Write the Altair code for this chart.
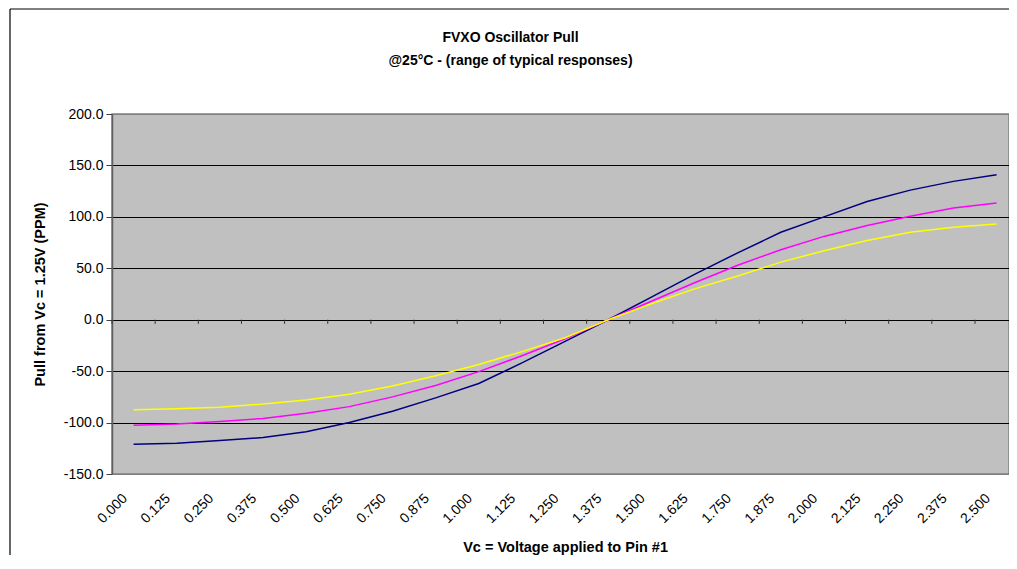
import json
import altair as alt
import pandas as pd

# ---- data ----
categories = ["0.000", "0.125", "0.250", "0.375", "0.500", "0.625", "0.750",
              "0.875", "1.000", "1.125", "1.250", "1.375", "1.500", "1.625",
              "1.750", "1.875", "2.000", "2.125", "2.250", "2.375", "2.500"]
series_names = ["Response A", "Response B", "Response C"]
series_colors = ["#000080", "#FF00FF", "#FFFF00"]
navy = [-121, -120, -117.5, -114.5, -109, -100, -89, -76, -62, -42, -21,
        0, 22, 44, 65, 85, 100, 115, 126, 134.5, 141]
magenta = [-102.5, -101.5, -99, -96, -91, -84.5, -75, -64, -50.5, -35, -18.5,
           0, 18, 36, 53, 68, 81, 91.5, 100.5, 108.5, 113.5]
yellow = [-87.5, -86.5, -85, -82, -78, -72.5, -64.5, -54.5, -43.5, -31, -17.5,
          0, 15.5, 30, 42.5, 56, 67, 77, 85, 90, 93]
y_ticks = [-150, -100, -50, 0, 50, 100, 150, 200]

rows = []
for name, vals in zip(series_names, [navy, magenta, yellow]):
    for i, (c, v) in enumerate(zip(categories, vals)):
        rows.append({"idx": i, "vc": c, "series": name, "pull": v})
df = pd.DataFrame(rows)

# category boundaries for the small tick marks on the zero line
bounds = pd.DataFrame({"b": [i + 0.5 for i in range(-1, len(categories) - 1)]})

W = 897             # visible plot width (the reference plot runs off the right edge)
H = 360
BAND = 43.15        # category spacing in the reference
RANGE_W = BAND * len(categories)
FONT = "Liberation Sans"

x_scale = alt.Scale(domain=[-0.5, len(categories) - 0.5], nice=False, zero=False,
                    range=[0, RANGE_W])
y_scale = alt.Scale(domain=[y_ticks[0], y_ticks[-1]], nice=False, zero=False)

label_expr = json.dumps(categories) + "[datum.value]"

x_axis = alt.Axis(
    values=list(range(len(categories))), labelExpr=label_expr,
    labelAngle=-45, labelAlign="right", labelBaseline="middle",
    labelPadding=22, labelOffset=-9, labelFontSize=14, labelFont=FONT,
    labelColor="black", ticks=False, domain=False, grid=False,
    title="Vc = Voltage applied to Pin #1", titleFont=FONT, titleFontSize=14.5,
    titleFontWeight="bold", titleColor="black", titleX=RANGE_W / 2, titleY=73,
    titleAlign="center", titleBaseline="middle", labelOverlap=False,
)
y_axis = alt.Axis(
    values=y_ticks, labelExpr="replace(format(datum.value, '.1f'), '\u2212', '-')",
    labelFontSize=14, labelFont=FONT,
    labelColor="black", labelPadding=3, tickSize=6, tickColor="#404040",
    domainColor="#606060", domainWidth=1.5,
    gridColor={"condition": {"test": "datum.value == 200 || datum.value == -150",
                             "value": "#808080"}, "value": "#000000"},
    gridWidth=1, gridOpacity=1,
    title="Pull from Vc = 1.25V (PPM)", titleFont=FONT, titleFontSize=14.5,
    titleFontWeight="bold", titleColor="black", titleAngle=-90,
    titleX=-72, titleY=H / 2, titleAlign="center", titleBaseline="middle",
)

# outer chart border (top and left edges; the rest runs off the picture)
frame_data = alt.Data(values=[{}])
frame_top = alt.Chart(frame_data).mark_rule(color="black", strokeWidth=1.2).encode(
    x=alt.value(-102), x2=alt.value(W), y=alt.value(-105),
)
frame_left = alt.Chart(frame_data).mark_rule(color="black", strokeWidth=1.2).encode(
    x=alt.value(-102), y=alt.value(-105), y2=alt.value(H + 81),
)

lines = alt.Chart(df).mark_line(strokeWidth=1.5).encode(
    x=alt.X("idx:Q", scale=x_scale, axis=x_axis),
    y=alt.Y("pull:Q", scale=y_scale, axis=y_axis),
    color=alt.Color("series:N", scale=alt.Scale(domain=series_names, range=series_colors),
                    legend=None),
    order=alt.Order("idx:Q"),
)

ticks = alt.Chart(bounds).transform_calculate(
    y0="0", y1="-4"
).mark_rule(color="#303030", strokeWidth=1).encode(
    x=alt.X("b:Q", scale=x_scale),
    y=alt.Y("y0:Q", scale=y_scale),
    y2="y1:Q",
)

chart = alt.layer(frame_top, frame_left, lines, ticks).properties(
    width=W, height=H,
    autosize=alt.AutoSizeParams(type="none"),
    padding={"left": 104, "top": 106, "right": 0, "bottom": 81},
    title=alt.TitleParams(
        text=["FVXO Oscillator Pull", "@25°C - (range of typical responses)"],
        font=FONT, fontSize=14, fontWeight="bold", color="black",
        anchor="middle", frame="group", dx=-50, offset=-60, lineHeight=23,
    ),
).configure(background="white").configure_view(
    fill="#C0C0C0", stroke="#808080", strokeWidth=1.5
)

chart.save("out.html", embed_options={"renderer": "svg", "actions": False})
